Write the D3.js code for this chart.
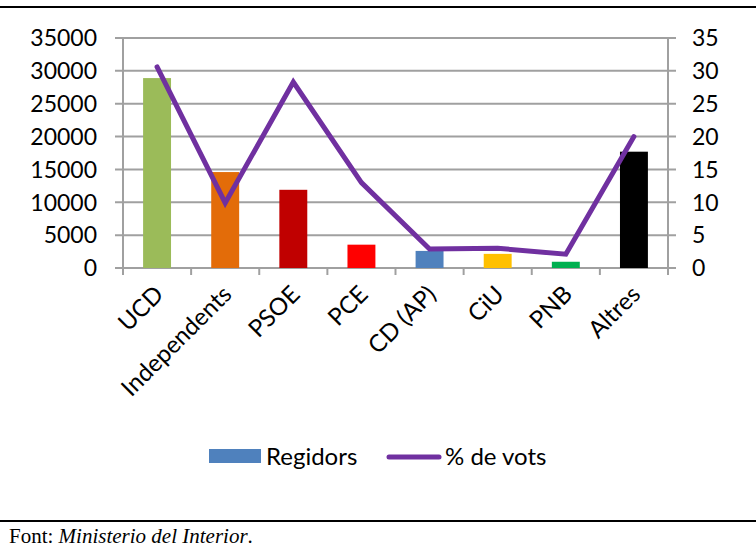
<!DOCTYPE html>
<html>
<head>
<meta charset="utf-8">
<script src="https://cdn.jsdelivr.net/npm/d3@7"></script>
<style>
  body { margin: 0; background: #fff; }
  svg { display: block; }
</style>
</head>
<body>
<div id="grafic"></div>
<script>
// Regidors i % de vots per partit
const categories = ["UCD", "Independents", "PSOE", "PCE", "CD (AP)", "CiU", "PNB", "Altres"];
const regidors = [28900, 14600, 11900, 3550, 2600, 2150, 950, 17700];
const percentVots = [30.6, 9.9, 28.3, 13.0, 2.9, 3.0, 2.1, 20.0];
const barColors = ["#9BBB59", "#E36C09", "#C00000", "#FF0000", "#4F81BD", "#FFC000", "#00B050", "#000000"];
const leftTicks = [0, 5000, 10000, 15000, 20000, 25000, 30000, 35000];
const rightTicks = [0, 5, 10, 15, 20, 25, 30, 35];

const width = 756;
const height = 553;
const plotLeft = 123, plotRight = 668, plotTop = 38, plotBottom = 268;
const gridColor = "#A0A0A0";
const font = "Lato, 'Open Sans', sans-serif";

const svg = d3.select("#grafic")
    .append("svg")
    .attr("width", width)
    .attr("height", height);

const x = d3.scaleBand().domain(categories).range([plotLeft, plotRight]).padding(0);
const yL = d3.scaleLinear().domain([0, 35000]).range([plotBottom, plotTop]);
const yR = d3.scaleLinear().domain([0, 35]).range([plotBottom, plotTop]);

// línies de dalt i de baix
svg.append("line").attr("x1", 0).attr("x2", width).attr("y1", 7).attr("y2", 7)
    .attr("stroke", "#000").attr("stroke-width", 2);
svg.append("line").attr("x1", 0).attr("x2", width).attr("y1", 521).attr("y2", 521)
    .attr("stroke", "#000").attr("stroke-width", 2);

// graella
svg.selectAll(".grid")
    .data(leftTicks)
    .enter()
    .append("line")
    .attr("x1", plotLeft - 8)
    .attr("x2", plotRight + 8)
    .attr("y1", d => yL(d))
    .attr("y2", d => yL(d))
    .attr("stroke", gridColor)
    .attr("stroke-width", 2);

// eixos verticals
[plotLeft, plotRight].forEach(px => {
    svg.append("line").attr("x1", px).attr("x2", px).attr("y1", plotTop).attr("y2", plotBottom + 7)
        .attr("stroke", gridColor).attr("stroke-width", 2);
});

// marques de categoria
const bounds = categories.map(c => x(c)).concat([x.range()[1]]);
svg.selectAll(".ctick")
    .data(bounds)
    .enter()
    .append("line")
    .attr("x1", d => d)
    .attr("x2", d => d)
    .attr("y1", plotBottom)
    .attr("y2", plotBottom + 7)
    .attr("stroke", gridColor)
    .attr("stroke-width", 2);

// etiquetes dels eixos
svg.selectAll(".lt")
    .data(leftTicks)
    .enter()
    .append("text")
    .attr("x", 97)
    .attr("y", d => yL(d))
    .attr("dy", "0.36em")
    .attr("text-anchor", "end")
    .style("font-family", font)
    .style("font-size", "23px")
    .text(d => d);

svg.selectAll(".rt")
    .data(rightTicks)
    .enter()
    .append("text")
    .attr("x", 692)
    .attr("y", d => yR(d))
    .attr("dy", "0.36em")
    .attr("text-anchor", "start")
    .style("font-family", font)
    .style("font-size", "23px")
    .text(d => d);

// barres
const barW = x.bandwidth() * 0.41;
svg.selectAll(".bar")
    .data(categories)
    .enter()
    .append("rect")
    .attr("x", d => x(d) + (x.bandwidth() - barW) / 2)
    .attr("y", (d, i) => yL(regidors[i]))
    .attr("width", barW)
    .attr("height", (d, i) => plotBottom - yL(regidors[i]))
    .attr("fill", (d, i) => barColors[i]);

// línia % de vots
const line = d3.line()
    .x((d, i) => x(categories[i]) + x.bandwidth() / 2)
    .y(d => yR(d));

svg.append("path")
    .datum(percentVots)
    .attr("d", line)
    .attr("fill", "none")
    .attr("stroke", "#7030A0")
    .attr("stroke-width", 5)
    .attr("stroke-linecap", "round")
    .attr("stroke-linejoin", "miter");

// etiquetes de categoria
svg.selectAll(".cat")
    .data(categories)
    .enter()
    .append("text")
    .attr("transform", d => `translate(${x(d) + x.bandwidth() / 2 - 4}, ${plotBottom + 16}) rotate(-45)`)
    .attr("text-anchor", "end")
    .attr("dy", "0.7em")
    .style("font-family", font)
    .style("font-size", "24px")
    .text(d => d);

// llegenda
svg.append("rect").attr("x", 209).attr("y", 449).attr("width", 52).attr("height", 14)
    .attr("fill", "#4F81BD");
svg.append("text").attr("x", 266).attr("y", 465)
    .style("font-family", font).style("font-size", "24px")
    .text("Regidors");
svg.append("line").attr("x1", 389).attr("x2", 439).attr("y1", 457).attr("y2", 457)
    .attr("stroke", "#7030A0").attr("stroke-width", 5).attr("stroke-linecap", "round");
svg.append("text").attr("x", 445).attr("y", 465)
    .style("font-family", font).style("font-size", "24px")
    .text("% de vots");

// font
const src = svg.append("text").attr("x", 9).attr("y", 543)
    .style("font-family", "'Liberation Serif', 'Times New Roman', serif")
    .style("font-size", "21px");
src.append("tspan").text("Font: ");
src.append("tspan").style("font-style", "italic").text("Ministerio del Interior");
src.append("tspan").text(".");
</script>
</body>
</html>
